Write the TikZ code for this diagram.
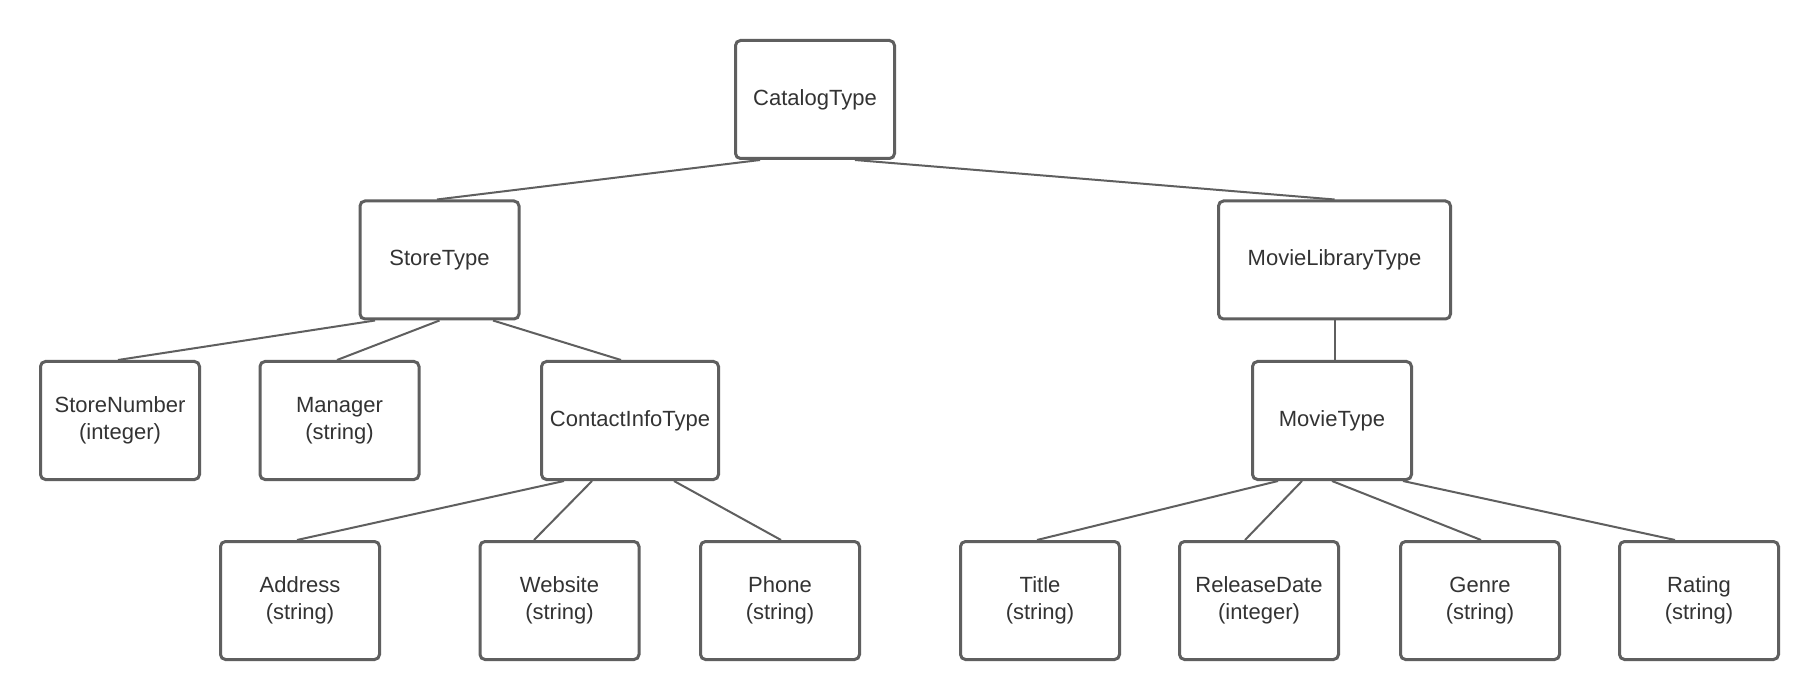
\documentclass[tikz,border=0pt]{standalone}
\usepackage{fontspec}
\setmainfont{Liberation Sans}
\definecolor{linegray}{RGB}{95,95,95}
\definecolor{textgray}{RGB}{51,51,51}
\tikzset{
  box/.style={draw=linegray, line width=3pt, rounded corners=5pt, fill=white,
    minimum width=159pt, minimum height=118pt, inner sep=0pt, align=center,
    text=textgray, font=\fontsize{22pt}{27pt}\selectfont},
  conn/.style={draw=linegray, line width=2pt},
}
\begin{document}
\begin{tikzpicture}[x=1pt,y=-1pt]
\useasboundingbox[fill=white] (0,0) rectangle (1820,700);
% row 0
\node[box] (cat) at (815,99.5) {CatalogType};
% row 1
\node[box] (store) at (439.5,260) {StoreType};
\node[box, minimum width=232pt] (mlib) at (1334.5,260) {MovieLibraryType};
% row 2
\node[box] (snum) at (120,420.5) {StoreNumber\\(integer)};
\node[box] (mgr) at (339.5,420.5) {Manager\\(string)};
\node[box, minimum width=177pt] (contact) at (630,420.5) {ContactInfoType};
\node[box] (movie) at (1332,420.5) {MovieType};
% row 3
\node[box] (addr) at (300,600.5) {Address\\(string)};
\node[box] (web) at (559.5,600.5) {Website\\(string)};
\node[box] (phone) at (780,600.5) {Phone\\(string)};
\node[box] (title) at (1040,600.5) {Title\\(string)};
\node[box] (rel) at (1259,600.5) {ReleaseDate\\(integer)};
\node[box] (genre) at (1480,600.5) {Genre\\(string)};
\node[box] (rating) at (1699,600.5) {Rating\\(string)};
% connectors
\draw[conn] ([xshift=-55pt]cat.south) -- ([xshift=-2.5pt]store.north);
\draw[conn] ([xshift=40pt]cat.south) -- (mlib.north);
\draw[conn] ([xshift=-64.5pt]store.south) -- ([xshift=-2pt]snum.north);
\draw[conn] (store.south) -- ([xshift=-2.5pt]mgr.north);
\draw[conn] ([xshift=53.5pt]store.south) -- ([xshift=-9pt]contact.north);
\draw[conn] (mlib.south) -- (mlib.south |- movie.north);
\draw[conn] ([xshift=-66pt]contact.south) -- ([xshift=-3pt]addr.north);
\draw[conn] ([xshift=-38pt]contact.south) -- ([xshift=-25.5pt]web.north);
\draw[conn] ([xshift=44pt]contact.south) -- ([xshift=1pt]phone.north);
\draw[conn] ([xshift=-54pt]movie.south) -- ([xshift=-3pt]title.north);
\draw[conn] ([xshift=-30pt]movie.south) -- ([xshift=-14pt]rel.north);
\draw[conn] (movie.south) -- ([xshift=1pt]genre.north);
\draw[conn] ([xshift=71pt]movie.south) -- ([xshift=-24pt]rating.north);
\end{tikzpicture}
\end{document}
